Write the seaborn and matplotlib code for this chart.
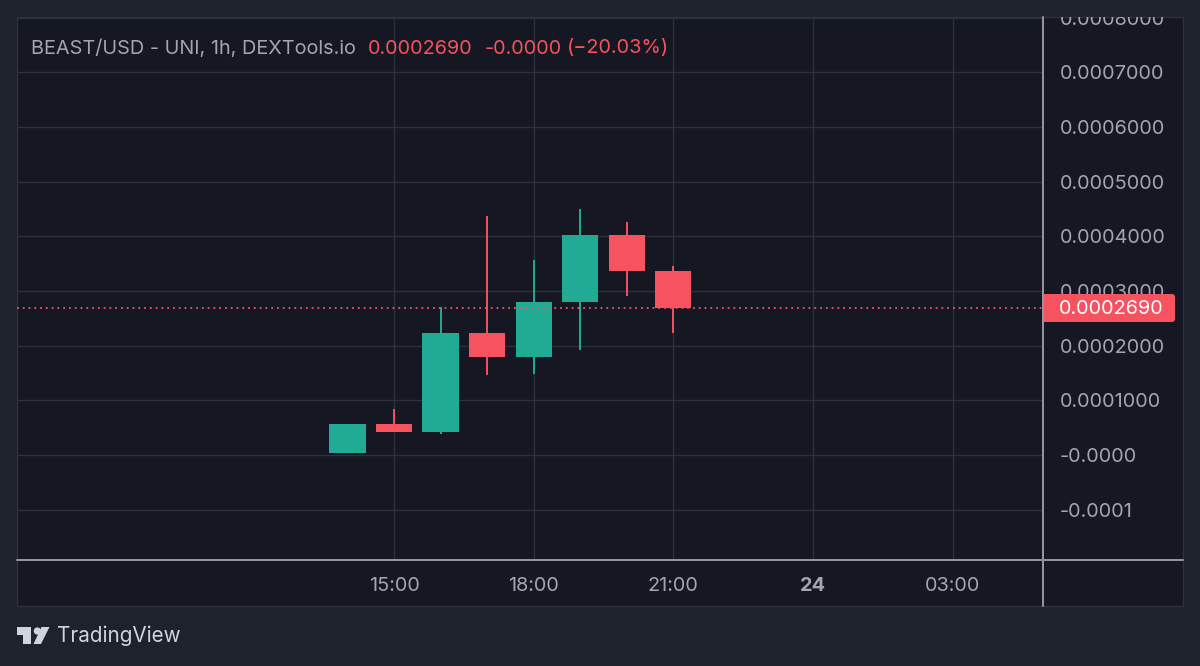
import pandas as pd
import numpy as np
import matplotlib.pyplot as plt
from matplotlib.patches import FancyBboxPatch, Polygon, Circle, Rectangle
from matplotlib.transforms import ScaledTranslation
import seaborn as sns

# candle data
hours = [14, 15, 16, 17, 18, 19, 20, 21]
opens = [0.000003, 0.000056, 0.000042, 0.000223, 0.000179, 0.000280, 0.000403, 0.000337]
closes = [0.000056, 0.000042, 0.000223, 0.000179, 0.000280, 0.000403, 0.000336, 0.000269]
highs = [0.000056, 0.000085, 0.000270, 0.000437, 0.000356, 0.000449, 0.000426, 0.000346]
lows = [0.000003, 0.000042, 0.000038, 0.000146, 0.000148, 0.000192, 0.000291, 0.000223]

last_price = 0.000269
price_ticks = [0.0008, 0.0007, 0.0006, 0.0005, 0.0004, 0.0003, 0.0002, 0.0001, 0.0, -0.0001]
price_labels = ['0.0008000', '0.0007000', '0.0006000', '0.0005000', '0.0004000',
                '0.0003000', '0.0002000', '0.0001000', '-0.0000', '-0.0001']
time_ticks = [15, 18, 21, 24, 27]
time_labels = ['15:00', '18:00', '21:00', '24', '03:00']

UP = '#22ab94'
DOWN = '#f7525f'
BG = '#1e222d'
PANEL = '#151823'
GRID = '#2d313c'
EDGE = '#9598a1'
TEXT = '#a3a6af'

sns.set_theme(style='dark')
plt.rcParams['font.family'] = ['Inter', 'DejaVu Sans']

df = pd.DataFrame({'hour': hours, 'open': opens, 'close': closes, 'high': highs, 'low': lows})
df['side'] = np.where(df['close'] >= df['open'], 'up', 'down')
colors = {'up': UP, 'down': DOWN}
wicks = df.melt(id_vars=['hour', 'side'], value_vars=['low', 'high'], value_name='price')

fig = plt.figure(figsize=(12, 6.66), dpi=100, facecolor=BG)

# page furniture in pixel coordinates
bg = fig.add_axes([0, 0, 1, 1], zorder=0)
bg.set_xlim(0, 1200)
bg.set_ylim(666, 0)
bg.axis('off')
bg.add_patch(Rectangle((17, 17), 1166, 589, fc=PANEL, ec=GRID, lw=1))

W, H = 1200, 666
ax = fig.add_axes([17 / W, 1 - 560 / H, (1042 - 17) / W, (560 - 17) / H], zorder=1)
ax.set_facecolor('none')
ax.set_xlim(6.9, 28.92)
ax.set_ylim(-0.000192, 0.000801)

ax.set_xticks(time_ticks)
ax.set_yticks(price_ticks)
ax.grid(True, color=GRID, lw=1)
ax.set_axisbelow(True)
ax.tick_params(length=0, labelleft=False, labelbottom=False)
for s in ax.spines.values():
    s.set_visible(False)

sns.lineplot(data=wicks, x='hour', y='price', hue='side', units='hour', estimator=None,
             palette=colors, lw=1.4, legend=False, ax=ax, zorder=3, solid_capstyle='butt')
ax.bar(df['hour'], df['close'] - df['open'], bottom=df['open'], width=0.78,
       color=df['side'].map(colors), edgecolor='none', linewidth=0, zorder=4)
ax.axhline(last_price, color=DOWN, lw=1.3, ls=(0, (1, 2.2)), zorder=5)
ax.set_xlabel('')
ax.set_ylabel('')

# price scale labels, the top one gets cut by the panel edge
nudge = ScaledTranslation(0, -2 / 100, fig.dpi_scale_trans)
y_trans = ax.get_yaxis_transform() + nudge
clip = Rectangle((17, 17), 1166, 589, transform=bg.transData)
for p, lab in zip(price_ticks, price_labels):
    t = ax.text(1.0176, p, lab, transform=y_trans, color=TEXT, fontsize=14.3,
                va='center', ha='left', clip_on=True, zorder=2)
    t.set_clip_path(clip)

for h, lab in zip(time_ticks, time_labels):
    ax.text(h, -0.047, lab, transform=ax.get_xaxis_transform(), color=TEXT, fontsize=14.3,
            va='center', ha='center', fontweight='bold' if lab == '24' else 'normal', clip_on=False)

over = fig.add_axes([0, 0, 1, 1], zorder=2)
over.set_xlim(0, 1200)
over.set_ylim(666, 0)
over.axis('off')
over.patch.set_alpha(0)

# axis borders
over.plot([17, 1183], [560, 560], color=EDGE, lw=1.4)
over.plot([1042.5, 1042.5], [17, 606], color=EDGE, lw=1.4)

# last price tag
over.add_patch(FancyBboxPatch((1045, 297), 127, 22, boxstyle='round,pad=3', fc=DOWN, ec='none'))
over.add_patch(Rectangle((1042, 294), 6, 28, fc=DOWN, ec='none'))
over.text(1111.5, 309.5, '0.0002690', color='white', fontsize=14.3, ha='center', va='center')

# header
over.text(31, 48.5, 'BEAST/USD - UNI, 1h, DEXTools.io', color=TEXT, fontsize=14.3, ha='left', va='center')
over.text(368, 48.5, '0.0002690', color=DOWN, fontsize=14.3, ha='left', va='center')
over.text(485, 48.5, '-0.0000', color=DOWN, fontsize=14.3, ha='left', va='center')
over.text(567, 48.5, '(\u221220.03%)', color=DOWN, fontsize=14.3, ha='left', va='center')

# logo
LOGO = '#d1d4dc'
over.add_patch(Polygon([(17, 627), (31, 627), (31, 644), (23, 644), (23, 635), (17, 635)], fc=LOGO, ec='none'))
over.add_patch(Circle((37.3, 631), 3.6, fc=LOGO, ec='none'))
over.add_patch(Polygon([(33.5, 644), (41.5, 627), (49.5, 627), (41, 644)], fc=LOGO, ec='none'))
over.text(57, 636, 'TradingView', color=LOGO, fontsize=14.9, ha='left', va='center')

fig.savefig('out.png', dpi=100, facecolor=BG)
